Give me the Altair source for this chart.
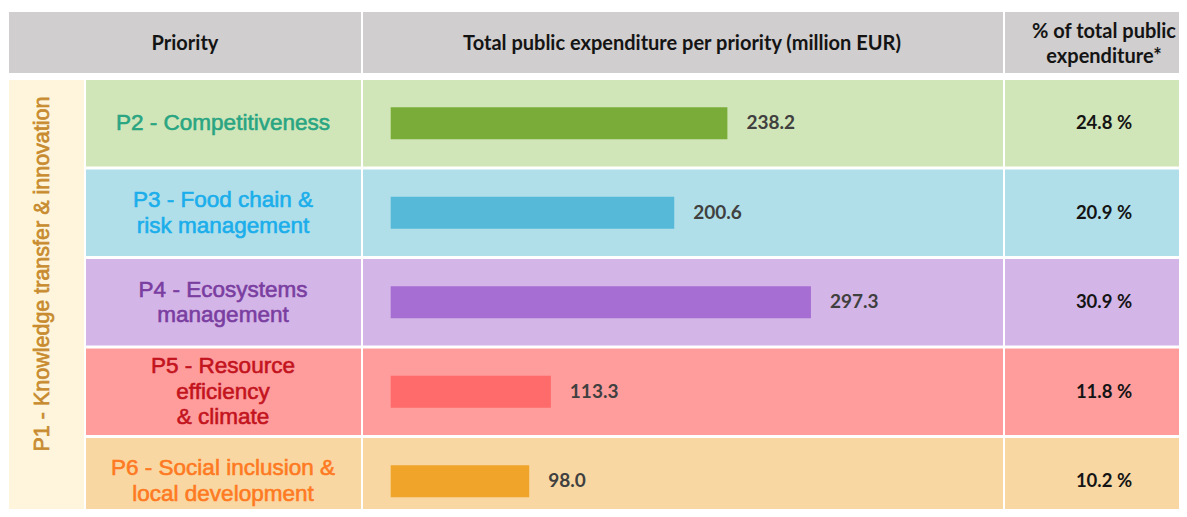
import altair as alt
import pandas as pd

# ---- data ----
priorities = ["P2", "P3", "P4", "P5", "P6"]
labels = [
    "P2 - Competitiveness",
    "P3 - Food chain &|risk management",
    "P4 - Ecosystems|management",
    "P5 - Resource|efficiency|& climate",
    "P6 - Social inclusion &|local development",
]
n_lines = [1, 2, 2, 3, 2]
expenditure = [238.2, 200.6, 297.3, 113.3, 98.0]
share = [24.8, 20.9, 30.9, 11.8, 10.2]
row_colors = ["#D1E6B8", "#B0DFEA", "#D4B5E7", "#FF9D9D", "#F8D7A3"]
bar_colors = ["#7AAC3A", "#57B9D8", "#A66ED2", "#FF6A6A", "#F0A52A"]
label_colors = ["#2AA582", "#1BAEEA", "#7A3EA1", "#C3141E", "#FF7A22"]
header_titles = [
    "Priority",
    "Total public expenditure per priority (million EUR)",
    "% of total public|expenditure*",
]
side_title = "P1 - Knowledge transfer & innovation"

df = pd.DataFrame({
    "priority": priorities,
    "label": labels,
    "n": n_lines,
    "expenditure": expenditure,
    "share": share,
    "row_color": row_colors,
    "bar_color": bar_colors,
    "label_color": label_colors,
})

W, H = 1171, 501
base = alt.Chart(df)
Y = alt.Y("priority:N", sort=priorities, axis=None,
          scale=alt.Scale(range=[72, 516.5], paddingInner=0.0335, paddingOuter=0))
X = alt.X("expenditure:Q", axis=None,
          scale=alt.Scale(domain=[0, 300], range=[382.7, 806.75], zero=True, nice=False))
ROWCOL = alt.Color("row_color:N", scale=None, legend=None)

one = alt.Chart(pd.DataFrame({"k": [0]}))

HEADER_GREY = "#D0CECF"
header_rects = [
    one.mark_rect(color=HEADER_GREY).encode(x=alt.value(1), x2=alt.value(353), y=alt.value(4), y2=alt.value(65)),
    one.mark_rect(color=HEADER_GREY).encode(x=alt.value(355), x2=alt.value(995), y=alt.value(4), y2=alt.value(65)),
    one.mark_rect(color=HEADER_GREY).encode(x=alt.value(997), x2=alt.value(1185), y=alt.value(4), y2=alt.value(65)),
]

hdf = pd.DataFrame({"title": header_titles, "i": [0, 1, 2]})
hx = [177, 674, 1096]
hy = [36, 36, 23.5]
header_texts = [
    alt.Chart(hdf).transform_filter(f"datum.i == {i}").mark_text(
        font="Lato", fontWeight="bold", fontSize=20, color="#141414",
        lineBreak="|", lineHeight=25, align="center", baseline="middle"
    ).encode(x=alt.value(hx[i]), y=alt.value(hy[i]), text="title:N")
    for i in range(3)
]

side_rect = one.mark_rect(color="#FEF5DC").encode(
    x=alt.value(1), x2=alt.value(76), y=alt.value(72), y2=alt.value(520))
side_text = alt.Chart(pd.DataFrame({"t": [side_title]})).mark_text(
    font="Liberation Sans", fontSize=21.5, color="#C88B2F", angle=270,
    align="center", baseline="middle", stroke="#C88B2F", strokeWidth=0.7
).encode(x=alt.value(35), y=alt.value(266), text="t:N")

row_bg = [
    base.mark_rect().encode(y=Y, x=alt.value(78), x2=alt.value(353), color=ROWCOL),
    base.mark_rect().encode(y=Y, x=alt.value(355), x2=alt.value(995), color=ROWCOL),
    base.mark_rect().encode(y=Y, x=alt.value(997), x2=alt.value(1185), color=ROWCOL),
]

LH = 25.5
row_labels = [
    base.transform_filter(f"datum.n == {k}").mark_text(
        font="Liberation Sans", fontSize=22.5, lineBreak="|", lineHeight=LH,
        align="center", baseline="middle", dy=-(k - 1) * LH / 2, strokeWidth=0.6
    ).encode(y=Y, x=alt.value(215), text="label:N",
             color=alt.Color("label_color:N", scale=None, legend=None),
             stroke=alt.Stroke("label_color:N", scale=None, legend=None))
    for k in (1, 2, 3)
]

bars = base.mark_bar(size=32).encode(
    y=Y, x=X, color=alt.Color("bar_color:N", scale=None, legend=None))

values = base.mark_text(
    font="Lato", fontWeight="bold", fontSize=19, color="#404040",
    align="left", baseline="middle", dx=19
).encode(y=Y, x=X, text=alt.Text("expenditure:Q", format=".1f"))

pct = base.transform_calculate(
    pct_label="format(datum.share, '.1f') + ' %'"
).mark_text(
    font="Lato", fontWeight="bold", fontSize=18.5, color="#141414",
    align="center", baseline="middle"
).encode(y=Y, x=alt.value(1096), text="pct_label:N")

chart = alt.layer(
    *header_rects, *header_texts, side_rect, side_text, *row_bg,
    *row_labels, bars, values, pct
).properties(
    width=W, height=H, padding=0, autosize="none", background="white"
).configure_view(stroke=None)

chart.save("out.html", embed_options={"renderer": "svg", "actions": False})
